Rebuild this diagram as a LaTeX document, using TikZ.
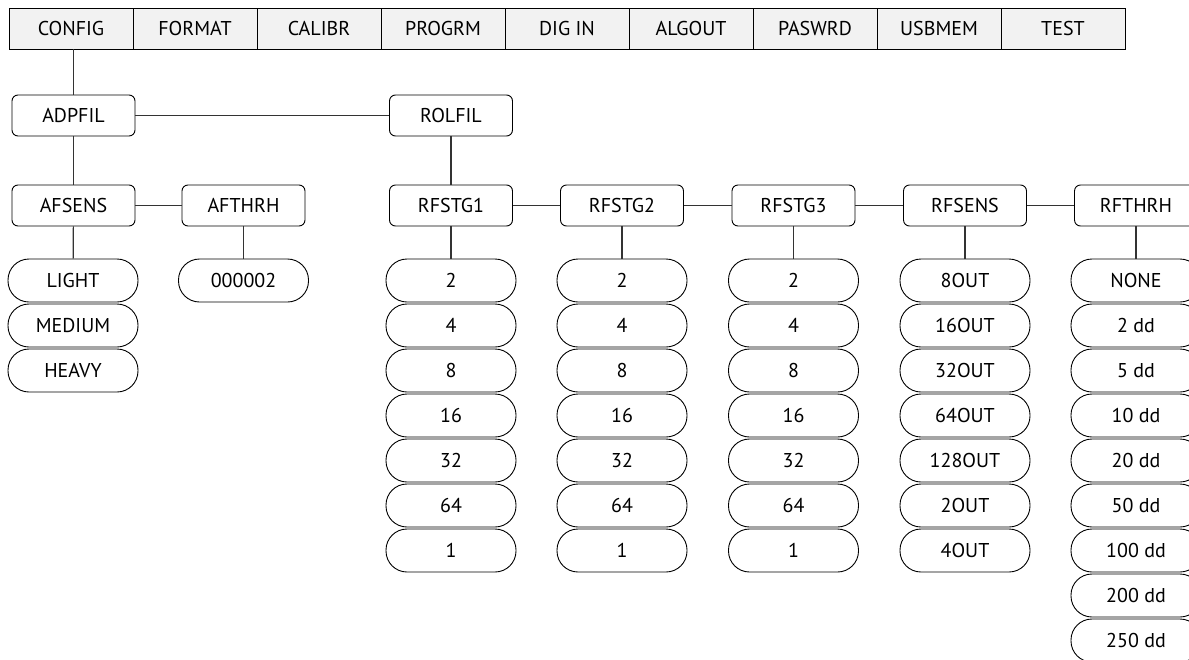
\documentclass[tikz,border=0pt]{standalone}
\usepackage{fontspec}
\setmainfont{PT Sans}
\begin{document}
\begin{tikzpicture}[
    x=1pt, y=-1pt,
    menu/.style={rectangle, draw=black, fill=black!5, line width=0.9pt,
                 minimum width=124pt, minimum height=41pt, inner sep=0pt,
                 font=\fontsize{20}{22}\selectfont},
    item/.style={rectangle, draw=black, fill=white, rounded corners=6pt,
                 line width=0.9pt, minimum width=123pt, minimum height=41pt,
                 inner sep=0pt, font=\fontsize{20}{22}\selectfont},
    opt/.style={rectangle, draw=black, fill=white, rounded corners=21pt,
                line width=0.9pt, minimum width=130pt, minimum height=43pt,
                inner sep=0pt, font=\fontsize{20}{22}\selectfont},
    link/.style={draw=black!80, line width=1.2pt},
]
  \clip (0,0) rectangle (1189,659);
  \fill[white] (0,0) rectangle (1189,659);

  % Top menu
  \foreach \name [count=\i] in {CONFIG,FORMAT,CALIBR,PROGRM,DIG IN,ALGOUT,PASWRD,USBMEM,TEST} {
    \node[menu] (m\i) at ({71+124*(\i-1)}, 28.5) {\name};
  }

  % Filter menus
  \node[item] (adpfil) at (73.5, 115.5) {ADPFIL};
  \node[item] (rolfil) at (451, 115.5) {ROLFIL};
  \draw[link] (adpfil.north) -- (adpfil.north |- m1.south);
  \draw[link] (adpfil) -- (rolfil);

  % Adaptive filter
  \node[item] (afsens) at (73.5, 205.5) {AFSENS};
  \node[item] (afthrh) at (243.5, 205.5) {AFTHRH};
  \draw[link] (adpfil) -- (afsens);
  \draw[link] (afsens) -- (afthrh);

  \foreach \v [count=\j] in {LIGHT,MEDIUM,HEAVY} {
    \node[opt] (afs\j) at (73, {280.5+45*(\j-1)}) {\v};
  }
  \node[opt] (aft1) at (243.5, 280.5) {000002};
  \draw[link] (afsens) -- (afs1);
  \draw[link] (afthrh) -- (aft1);

  % Rolling filter
  \node[item] (rfstg1) at (451, 205.5) {RFSTG1};
  \node[item] (rfstg2) at (622, 205.5) {RFSTG2};
  \node[item] (rfstg3) at (793.5, 205.5) {RFSTG3};
  \node[item] (rfsens) at (965, 205.5) {RFSENS};
  \node[item] (rfthrh) at (1136, 205.5) {RFTHRH};
  \draw[link] (rolfil) -- (rfstg1);
  \draw[link] (rfstg1) -- (rfstg2);
  \draw[link] (rfstg2) -- (rfstg3);
  \draw[link] (rfstg3) -- (rfsens);
  \draw[link] (rfsens) -- (rfthrh);

  % Stage values
  \foreach \c/\x in {1/451, 2/622, 3/793.5} {
    \foreach \v [count=\j] in {2,4,8,16,32,64,1} {
      \node[opt] (stg\c-\j) at (\x, {280.5+45*(\j-1)}) {\v};
    }
    \draw[link] (rfstg\c) -- (stg\c-1);
  }

  % Sensitivity values
  \foreach \v [count=\j] in {8OUT,16OUT,32OUT,64OUT,128OUT,2OUT,4OUT} {
    \node[opt] (sens\j) at (965, {280.5+45*(\j-1)}) {\v};
  }
  \draw[link] (rfsens) -- (sens1);

  % Threshold values
  \foreach \v [count=\j] in {NONE,2 dd,5 dd,10 dd,20 dd,50 dd,100 dd,200 dd,250 dd} {
    \node[opt] (thr\j) at (1136, {280.5+45*(\j-1)}) {\v};
  }
  \draw[link] (rfthrh) -- (thr1);

\end{tikzpicture}
\end{document}
